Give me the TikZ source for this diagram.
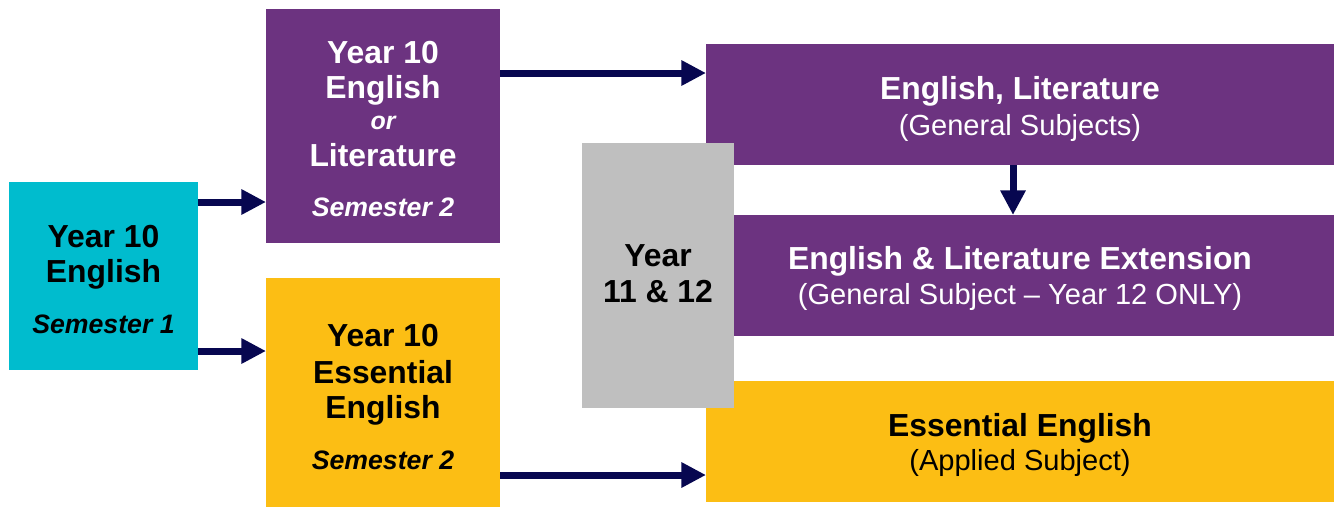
\documentclass[tikz,border=0pt]{standalone}
\usepackage{fontspec}
\setmainfont{Liberation Sans}
\usetikzlibrary{arrows.meta}
\definecolor{cteal}{RGB}{0,188,206}
\definecolor{cpurple}{RGB}{108,51,128}
\definecolor{cyellow}{RGB}{252,190,20}
\definecolor{cgrey}{RGB}{191,191,191}
\definecolor{cnavy}{RGB}{7,7,80}
\begin{document}
\begin{tikzpicture}[x=0.75pt,y=-0.75pt,
  box/.style={draw=none, inner sep=0pt, outer sep=0pt, anchor=north west},
  ttl/.style={font=\fontsize{23.9}{28}\selectfont\bfseries, inner sep=0pt, anchor=base},
  sub/.style={font=\fontsize{21.8}{26}\selectfont, inner sep=0pt, anchor=base},
  sem/.style={font=\fontsize{20}{24}\selectfont\bfseries\itshape, inner sep=0pt, anchor=base},
  orword/.style={font=\fontsize{18.7}{22}\selectfont\bfseries\itshape, inner sep=0pt, anchor=base},
  arr/.style={draw=cnavy, line width=5.25pt, -{Triangle[length=18.5pt,width=18pt]}}
]
\fill[white] (0,0) rectangle (1341,508);
\useasboundingbox (0,0) rectangle (1341,508);

% boxes
\node[box, fill=cteal, minimum width=189*0.75pt, minimum height=188*0.75pt] (teal) at (9,182) {};
\node[box, fill=cpurple, minimum width=234*0.75pt, minimum height=234*0.75pt] (p10) at (266,9) {};
\node[box, fill=cyellow, minimum width=234*0.75pt, minimum height=229*0.75pt] (y10) at (266,278) {};
\node[box, fill=cpurple, minimum width=628*0.75pt, minimum height=121*0.75pt] (elit) at (706,44) {};
\node[box, fill=cpurple, minimum width=628*0.75pt, minimum height=121*0.75pt] (ext) at (706,215) {};
\node[box, fill=cyellow, minimum width=628*0.75pt, minimum height=121*0.75pt] (ess) at (706,381) {};
\node[box, fill=cgrey, minimum width=152*0.75pt, minimum height=265*0.75pt] (grey) at (582,143) {};

% texts
\node[ttl] (teal-a) at (103.5,247) {Year 10};
\node[ttl] (teal-b) at (103.5,282) {English};
\node[sem] (teal-c) at (103.5,333) {Semester 1};

\node[ttl, text=white] (p10-a) at (383,63) {Year 10};
\node[ttl, text=white] (p10-b) at (383,98) {English};
\node[orword, text=white] (p10-c) at (383,129) {or};
\node[ttl, text=white] (p10-d) at (383,166) {Literature};
\node[sem, text=white] (p10-e) at (383,216) {Semester 2};

\node[ttl] (y10-a) at (383,346) {Year 10};
\node[ttl] (y10-b) at (383,383) {Essential};
\node[ttl] (y10-c) at (383,418) {English};
\node[sem] (y10-d) at (383,469) {Semester 2};

\node[ttl] (grey-a) at (658,266) {Year};
\node[ttl] (grey-b) at (658,302) {11 \& 12};

\node[ttl, text=white] (elit-a) at (1020,99) {English, Literature};
\node[sub, text=white] (elit-b) at (1020,135) {(General Subjects)};

\node[ttl, text=white] (ext-a) at (1020,269) {English \& Literature Extension};
\node[sub, text=white] (ext-b) at (1020,304) {(General Subject – Year 12 ONLY)};

\node[ttl] (ess-a) at (1020,436) {Essential English};
\node[sub] (ess-b) at (1020,470) {(Applied Subject)};

% arrows
\draw[arr] (teal.east |- 0,202) -- (p10.west |- 0,202);
\draw[arr] (teal.east |- 0,351) -- (y10.west |- 0,351);
\draw[arr] (p10.east |- 0,73) -- (elit.west |- 0,73);
\draw[arr] (y10.east |- 0,475) -- (ess.west |- 0,475);
\draw[arr] (elit.south -| 1013,0) -- (ext.north -| 1013,0);
\end{tikzpicture}
\end{document}
